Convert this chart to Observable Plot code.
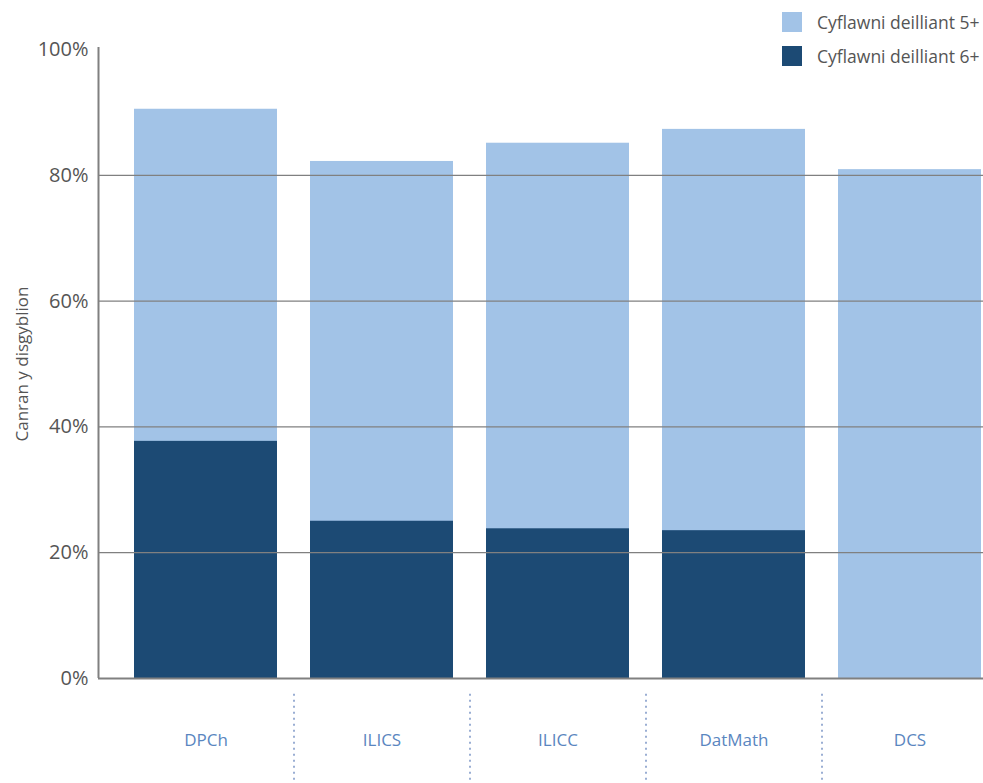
<!DOCTYPE html>
<html>
<head>
<meta charset="utf-8">
<script src="https://cdn.jsdelivr.net/npm/d3@7"></script>
<script src="https://cdn.jsdelivr.net/npm/@observablehq/plot@0.6"></script>
<style>
  html, body { margin: 0; padding: 0; background: #fff; }
  #wrap { position: relative; width: 983px; height: 783px; font-family: "Open Sans", sans-serif; }
  #legend { position: absolute; left: 782px; top: 12px; font-size: 17.5px; color: #555; }
  .item { display: flex; align-items: center; height: 20px; margin-bottom: 14px; }
  .sw { width: 20px; height: 20px; margin-right: 15px; flex: none; }
</style>
</head>
<body>
<div id="wrap"><div id="legend"></div></div>
<script>
const categories = ["DPCh", "ILICS", "ILICC", "DatMath", "DCS"];
const deilliant5 = [90.5, 82.2, 85.1, 87.3, 80.9];
const deilliant6 = [37.7, 25.0, 23.8, 23.5, null];
const seriesNames = ["Cyflawni deilliant 5+", "Cyflawni deilliant 6+"];
const seriesColors = ["#a2c3e7", "#1c4a74"];
const yTicks = [0, 20, 40, 60, 80, 100];
const gridTicks = [20, 40, 60, 80];

const rows5 = categories.map((c, i) => ({cat: c, value: deilliant5[i]}));
const rows6 = categories.map((c, i) => ({cat: c, value: deilliant6[i]})).filter(d => d.value != null);

const plot = Plot.plot({
  width: 983,
  height: 783,
  marginTop: 49,
  marginBottom: 105,
  marginLeft: 98,
  marginRight: 0,
  style: {fontFamily: "Open Sans, sans-serif", fontSize: "16px", color: "#555", background: "#fff"},
  x: {domain: categories, range: [134, 981], paddingInner: 0.1875, paddingOuter: 0, label: null},
  y: {domain: [0, 100], label: null},
  marks: [
    Plot.barY(rows5, {x: "cat", y: "value", fill: seriesColors[0]}),
    Plot.barY(rows6, {x: "cat", y: "value", fill: seriesColors[1]}),
    Plot.ruleY(gridTicks, {stroke: "#808080", strokeWidth: 1.3}),
    Plot.ruleY([0], {stroke: "#808080", strokeWidth: 2}),
    Plot.ruleX([categories[0]], {x: d => d, dx: -107.5, y1: 0, y2: 100.3, stroke: "#808080", strokeWidth: 2}),
    Plot.ruleX(categories.slice(1), {x: d => d, dx: -88, y1: -2.5, y2: -17, stroke: "#9aaed3", strokeWidth: 2, strokeDasharray: "2,4", clip: false}),
    Plot.axisY({ticks: yTicks, tickSize: 0, tickPadding: 10, tickFormat: d => d + "%", fill: "#555", fontSize: 20, label: null}),
    Plot.axisX({tickSize: 0, tickPadding: 55, fill: "#5a86c0", fontSize: 17, label: null}),
    Plot.text(["Canran y disgyblion"], {frameAnchor: "left", dx: -76, rotate: -90, textAnchor: "middle", fill: "#555", fontSize: 17})
  ]
});
document.getElementById("wrap").prepend(plot);

const legend = document.getElementById("legend");
seriesNames.forEach((n, i) => {
  const item = document.createElement("div");
  item.className = "item";
  item.innerHTML = `<div class="sw" style="background:${seriesColors[i]}"></div><span>${n}</span>`;
  legend.appendChild(item);
});
</script>
</body>
</html>
